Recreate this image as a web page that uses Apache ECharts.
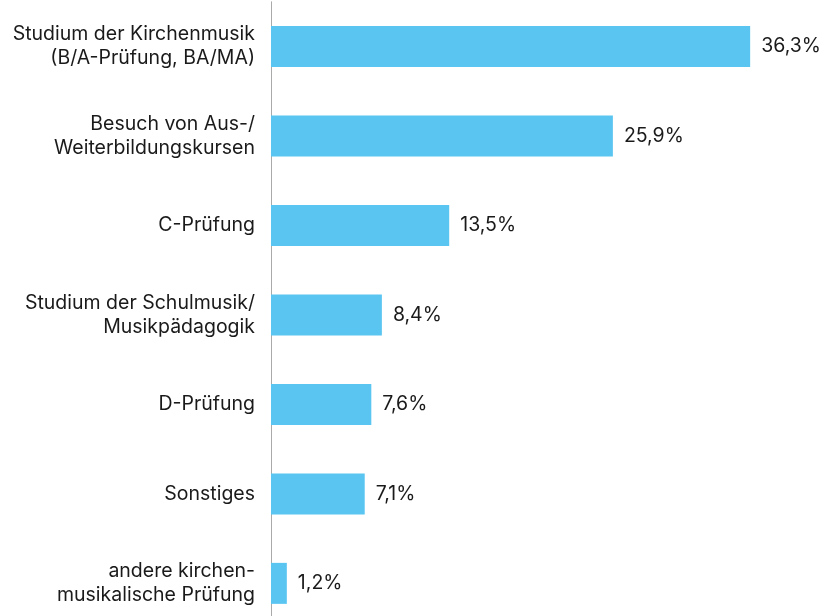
<!DOCTYPE html>
<html>
<head>
<meta charset="utf-8">
<script src="https://cdn.jsdelivr.net/npm/echarts@6/dist/echarts.min.js"></script>
<style>
  html, body { margin: 0; padding: 0; background: #fff; overflow: hidden; }
  /* etwas höher als das Fenster: die letzte Kategorie ist unten angeschnitten */
  #chart { width: 827px; height: 630px; }
</style>
</head>
<body>
<div id="chart"></div>
<script>
// Kategorien von oben nach unten
const categories = [
    'Studium der Kirchenmusik\n(B/A-Prüfung, BA/MA)',
    'Besuch von Aus-/\nWeiterbildungskursen',
    'C-Prüfung',
    'Studium der Schulmusik/\nMusikpädagogik',
    'D-Prüfung',
    'Sonstiges',
    'andere kirchen-\nmusikalische Prüfung'
]
const values = [36.3, 25.9, 13.5, 8.4, 7.6, 7.1, 1.2]

const textColor = '#1a1a1a'
const fontFamily = 'Inter'

const chart = echarts.init(document.getElementById('chart'))

const option = {
    animation: false,
    grid: {
        left: 271,
        right: 28,
        top: 1.8,
        height: 626.3
    },
    xAxis: {
        type: 'value',
        min: 0,
        max: 40,
        show: false
    },
    yAxis: {
        type: 'category',
        inverse: true,
        data: categories,
        axisLine: {
            show: true,
            lineStyle: { color: '#aaaaaa', width: 1 }
        },
        axisTick: { show: false },
        axisLabel: {
            margin: 16,
            color: textColor,
            fontFamily: fontFamily,
            fontSize: 19.5,
            lineHeight: 24,
            align: 'right'
        }
    },
    series: [
        {
            type: 'bar',
            data: values,
            barWidth: 41,
            itemStyle: { color: '#5bc5f2' },
            label: {
                show: true,
                position: 'right',
                distance: 11,
                color: textColor,
                fontFamily: fontFamily,
                fontSize: 19.5,
                formatter: (p) => p.value.toFixed(1).replace('.', ',') + '%'
            }
        }
    ]
}

chart.setOption(option)
</script>
</body>
</html>
